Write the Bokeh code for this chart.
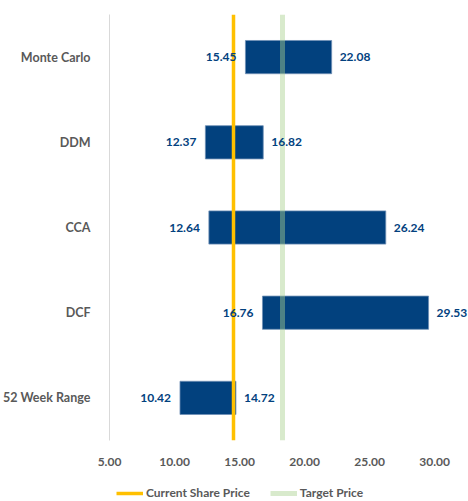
from bokeh.plotting import figure
from bokeh.layouts import column
from bokeh.models import ColumnDataSource, FactorRange, Range1d, Legend, LegendItem, FixedTicker, NumeralTickFormatter
from bokeh.core.properties import value
from bokeh.embed import file_html
from bokeh.resources import INLINE

categories = ["Monte Carlo", "DDM", "CCA", "DCF", "52 Week Range"]
low = [15.45, 12.37, 12.64, 16.76, 10.42]
high = [22.08, 16.82, 26.24, 29.53, 14.72]
current_price = 14.5
target_price = 18.3
x_ticks = [5, 10, 15, 20, 25, 30]

FONT = "Lato"
BLUE = "#02417E"
GRAY = "#595959"
YELLOW = "#FFC000"
GREEN = "#A9D18E"

src = ColumnDataSource(dict(
    cat=categories, low=low, high=high,
    low_txt=[f"{v:.2f}" for v in low],
    high_txt=[f"{v:.2f}" for v in high],
))

p = figure(width=468, height=470, output_backend="svg", toolbar_location=None,
           y_range=FactorRange(*list(reversed(categories))),
           x_range=Range1d(5, 32.6),
           min_border_left=107, min_border_right=0, min_border_top=14, min_border_bottom=30)
p.outline_line_color = None
p.xgrid.grid_line_color = None
p.ygrid.grid_line_color = None

p.hbar(y="cat", left="low", right="high", height=0.39, source=src,
       fill_color=BLUE, line_color="#6f8fb5", line_width=0.8)

p.vspan(x=[current_price], line_color=YELLOW, line_width=3.5)
p.vspan(x=[target_price], line_color=GREEN, line_alpha=0.45, line_width=5)

p.text(x="low", y="cat", text="low_txt", source=src, x_offset=-9,
       text_align="right", text_baseline="middle", text_color=BLUE,
       text_font=value(FONT), text_font_style="bold", text_font_size="12px")
p.text(x="high", y="cat", text="high_txt", source=src, x_offset=8,
       text_align="left", text_baseline="middle", text_color=BLUE,
       text_font=value(FONT), text_font_style="bold", text_font_size="12px")

# axes
p.xaxis.ticker = FixedTicker(ticks=x_ticks)
p.xaxis.formatter = NumeralTickFormatter(format="0.00")
p.xaxis.axis_line_color = None
p.xaxis.major_tick_line_color = None
p.xaxis.minor_tick_line_color = None
p.xaxis.major_label_standoff = 11
p.xaxis.major_label_text_font = FONT
p.xaxis.major_label_text_font_style = "bold"
p.xaxis.major_label_text_font_size = "12px"
p.xaxis.major_label_text_color = GRAY

p.yaxis.axis_line_color = "#D9D9D9"
p.yaxis.major_tick_line_color = None
p.yaxis.minor_tick_line_color = None
p.yaxis.major_label_standoff = 13
p.yaxis.major_label_text_font = FONT
p.yaxis.major_label_text_font_style = "bold"
p.yaxis.major_label_text_font_size = "12.5px"
p.yaxis.major_label_text_color = GRAY

# legend strip below the chart
lg = figure(width=468, height=31, output_backend="svg", toolbar_location=None,
            x_range=Range1d(0, 1), y_range=Range1d(0, 1),
            min_border=0, x_axis_location=None, y_axis_location=None)
lg.outline_line_color = None
lg.xgrid.grid_line_color = None
lg.ygrid.grid_line_color = None
r_cur = lg.vspan(x=[current_price], line_color=YELLOW, line_width=3.5)
r_tgt = lg.vspan(x=[target_price], line_color=GREEN, line_alpha=0.45, line_width=5)

legend = Legend(items=[LegendItem(label="Current Share Price", renderers=[r_cur]),
                       LegendItem(label="Target Price", renderers=[r_tgt])],
                orientation="horizontal", location=(7, 1),
                border_line_color=None, background_fill_alpha=0,
                label_text_font=FONT, label_text_font_style="bold",
                label_text_font_size="12px", label_text_color=GRAY,
                glyph_width=27, glyph_height=14, label_standoff=3, spacing=20,
                padding=2, margin=0)
lg.add_layout(legend, "center")

open("out.html", "w").write(file_html(column(p, lg, spacing=0), INLINE))
